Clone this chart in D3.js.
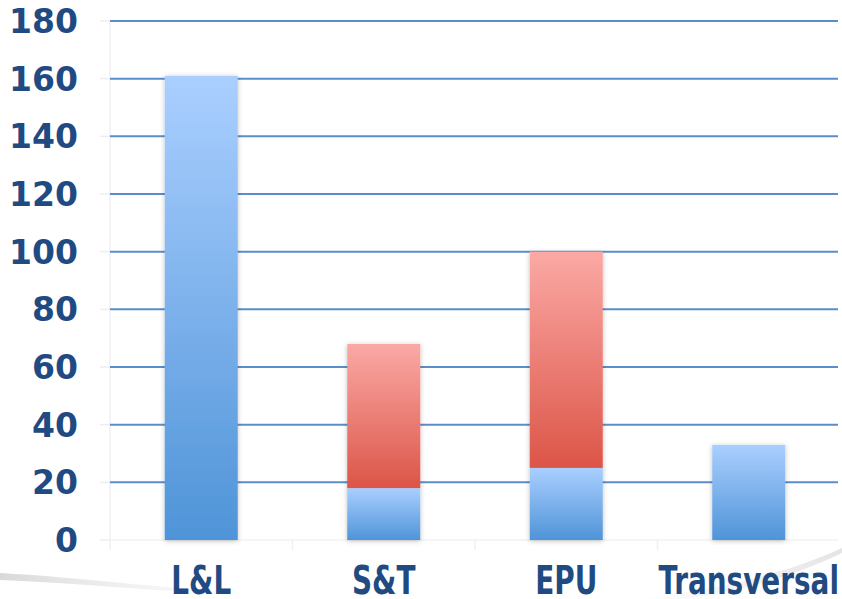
<!DOCTYPE html>
<html>
<head>
<meta charset="utf-8">
<script src="https://cdn.jsdelivr.net/npm/d3@7"></script>
<style>
  body { margin: 0; background: #fff; }
</style>
</head>
<body>
<div id="chart"></div>
<script>
var width = 842;
var height = 599;

// data
var categories = ["L&L", "S&T", "EPU", "Transversal"];
var blueValues = [161, 18, 25, 33];
var redValues = [0, 50, 75, 0];
var yTicks = [0, 20, 40, 60, 80, 100, 120, 140, 160, 180];

var margin = {top: 21, right: 2, bottom: 59, left: 110};

var svg = d3.select("#chart")
  .append("svg")
  .attr("width", width)
  .attr("height", height)
  .style("background-color", "white");

var defs = svg.append("defs");

var blueGrad = defs.append("linearGradient")
  .attr("id", "blueGrad")
  .attr("x1", 0).attr("y1", 0).attr("x2", 0).attr("y2", 1);
blueGrad.append("stop").attr("offset", "0%").attr("stop-color", "#aacfff");
blueGrad.append("stop").attr("offset", "100%").attr("stop-color", "#4f94d8");

var redGrad = defs.append("linearGradient")
  .attr("id", "redGrad")
  .attr("x1", 0).attr("y1", 0).attr("x2", 0).attr("y2", 1);
redGrad.append("stop").attr("offset", "0%").attr("stop-color", "#fba9a5");
redGrad.append("stop").attr("offset", "100%").attr("stop-color", "#dc5548");

var leftSwoosh = defs.append("linearGradient")
  .attr("id", "leftSwoosh")
  .attr("x1", 0).attr("y1", 0).attr("x2", 1).attr("y2", 0);
leftSwoosh.append("stop").attr("offset", "0%").attr("stop-color", "#cfcfcf").attr("stop-opacity", 0.8);
leftSwoosh.append("stop").attr("offset", "100%").attr("stop-color", "#e8e8e8").attr("stop-opacity", 0);

var rightSwoosh = defs.append("linearGradient")
  .attr("id", "rightSwoosh")
  .attr("x1", 0).attr("y1", 0).attr("x2", 1).attr("y2", 0);
rightSwoosh.append("stop").attr("offset", "0%").attr("stop-color", "#e0e0e0").attr("stop-opacity", 0);
rightSwoosh.append("stop").attr("offset", "100%").attr("stop-color", "#dedede").attr("stop-opacity", 0.8);

var shadow = defs.append("filter").attr("id", "shadow")
  .attr("x", "-20%").attr("y", "-5%").attr("width", "140%").attr("height", "110%");
shadow.append("feDropShadow")
  .attr("dx", 0).attr("dy", 1).attr("stdDeviation", 2.5)
  .attr("flood-color", "#000").attr("flood-opacity", 0.25);

// decorative swoosh at the bottom
svg.append("path")
  .attr("d", "M0,573 C60,576 140,586 260,594 L260,596 C140,590 60,582 0,580 Z")
  .style("fill", "url(#leftSwoosh)");
svg.append("path")
  .attr("d", "M640,599 C720,590 790,572 842,548 L842,553 C790,578 730,594 680,599 Z")
  .style("fill", "url(#rightSwoosh)");

var x = d3.scaleBand()
  .domain(categories)
  .range([margin.left, width - margin.right])
  .paddingInner(0.6)
  .paddingOuter(0.3);

var y = d3.scaleLinear()
  .domain([0, 180])
  .range([height - margin.bottom, margin.top]);

// faint frame lines
svg.append("line")
  .attr("x1", margin.left).attr("x2", margin.left)
  .attr("y1", y(180)).attr("y2", y(0) + 10)
  .style("stroke", "#f0f0f0").style("stroke-width", 1.5);

svg.selectAll(".ytick")
  .data(yTicks)
  .enter().append("line")
  .attr("x1", margin.left - 10).attr("x2", margin.left)
  .attr("y1", function(d) { return y(d); })
  .attr("y2", function(d) { return y(d); })
  .style("stroke", "#eeeeee").style("stroke-width", 1.5);

var step = x.step();
svg.selectAll(".xtick")
  .data(categories.slice(1))
  .enter().append("line")
  .attr("x1", function(d) { return x(d) - step * 0.3; })
  .attr("x2", function(d) { return x(d) - step * 0.3; })
  .attr("y1", y(0)).attr("y2", y(0) + 10)
  .style("stroke", "#f0f0f0").style("stroke-width", 1.5);

// gridlines
svg.selectAll(".grid")
  .data(yTicks.slice(1))
  .enter().append("line")
  .attr("x1", margin.left).attr("x2", width - 4)
  .attr("y1", function(d) { return y(d); })
  .attr("y2", function(d) { return y(d); })
  .style("stroke", "#5b8ec8").style("stroke-width", 2);

svg.append("line")
  .attr("x1", margin.left).attr("x2", width - 4)
  .attr("y1", y(0)).attr("y2", y(0))
  .style("stroke", "#f2f2f2").style("stroke-width", 1.5);

// bars
var bars = svg.selectAll(".bar")
  .data(categories)
  .enter().append("g")
  .attr("filter", "url(#shadow)");

bars.append("rect")
  .attr("x", function(d) { return x(d); })
  .attr("width", x.bandwidth())
  .attr("y", function(d, i) { return y(blueValues[i]); })
  .attr("height", function(d, i) { return y(0) - y(blueValues[i]); })
  .style("fill", "url(#blueGrad)");

bars.filter(function(d, i) { return redValues[i] > 0; })
  .append("rect")
  .attr("x", function(d) { return x(d); })
  .attr("width", x.bandwidth())
  .attr("y", function(d) { var i = categories.indexOf(d); return y(blueValues[i] + redValues[i]); })
  .attr("height", function(d) { var i = categories.indexOf(d); return y(blueValues[i]) - y(blueValues[i] + redValues[i]); })
  .style("fill", "url(#redGrad)");

// y labels
svg.selectAll(".ylab")
  .data(yTicks)
  .enter().append("text")
  .attr("x", 78)
  .attr("y", function(d) { return y(d); })
  .attr("dy", "0.36em")
  .attr("text-anchor", "end")
  .style("font-family", "'DejaVu Sans', sans-serif")
  .style("font-weight", "bold")
  .style("font-size", "33px")
  .style("fill", "#1f4a82")
  .text(function(d) { return d; });

// x labels (tall condensed lettering)
svg.selectAll(".xlab")
  .data(categories)
  .enter().append("text")
  .attr("transform", function(d) {
    return "translate(" + (x(d) + x.bandwidth() / 2) + ",594) scale(1,1.27)";
  })
  .attr("text-anchor", "middle")
  .style("font-family", "'DejaVu Sans Condensed', 'DejaVu Sans', sans-serif")
  .style("font-stretch", "condensed")
  .style("font-weight", "bold")
  .style("font-size", "31px")
  .style("fill", "#1f4a82")
  .text(function(d) { return d; });
</script>
</body>
</html>
